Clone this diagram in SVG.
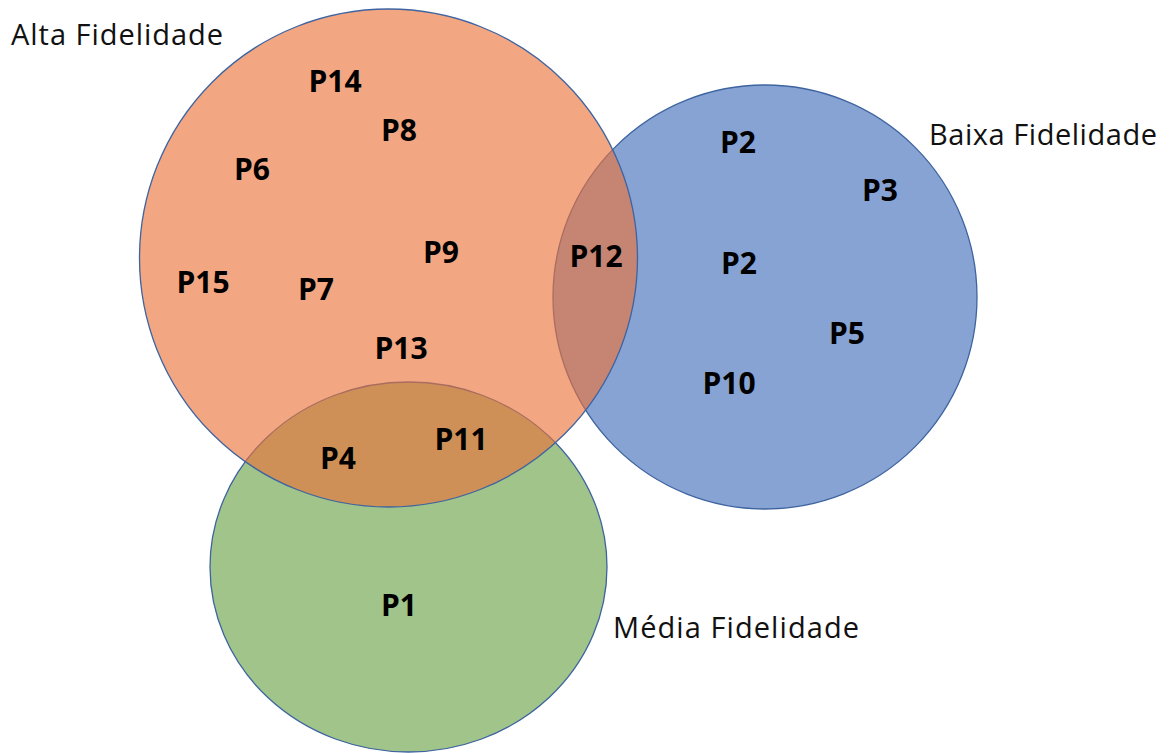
<svg xmlns="http://www.w3.org/2000/svg" width="1169" height="753" viewBox="0 0 1169 753">
<style>
.set{stroke:#3E64A0;stroke-width:1.3}
.lbl{font-family:"Open Sans","Noto Sans",sans-serif;font-size:29px;fill:#111}
.p{font-family:"Open Sans","Noto Sans",sans-serif;font-size:30px;font-weight:bold;fill:#000;text-anchor:middle}
</style>
<rect width="1169" height="753" fill="#ffffff"/>
<g id="media">
<ellipse class="set" cx="408.5" cy="567" rx="198.5" ry="185" fill="#A0C48A"/>
</g>
<g id="baixa">
<circle class="set" cx="765" cy="297" r="212" fill="#87A3D3"/>
</g>
<g id="alta">
<circle class="set" cx="388.5" cy="258" r="249" fill="#EA7239" fill-opacity="0.63"/>
</g>
<g id="connectors"></g>
<g id="labels">
<text class="lbl" x="11" y="45" textLength="212" lengthAdjust="spacing">Alta Fidelidade</text>
<text class="lbl" x="929" y="145" textLength="228" lengthAdjust="spacing">Baixa Fidelidade</text>
<text class="lbl" x="613" y="638" textLength="246" lengthAdjust="spacing">Média Fidelidade</text>
</g>
<g id="items">
<text class="p" x="335" y="92">P14</text>
<text class="p" x="399" y="141">P8</text>
<text class="p" x="252" y="180">P6</text>
<text class="p" x="441" y="263">P9</text>
<text class="p" x="203" y="293">P15</text>
<text class="p" x="316" y="300">P7</text>
<text class="p" x="401" y="359">P13</text>
<text class="p" x="596" y="267">P12</text>
<text class="p" x="338" y="469">P4</text>
<text class="p" x="461" y="450">P11</text>
<text class="p" x="399" y="616">P1</text>
<text class="p" x="738" y="153">P2</text>
<text class="p" x="880" y="201">P3</text>
<text class="p" x="739" y="274">P2</text>
<text class="p" x="847" y="344">P5</text>
<text class="p" x="729" y="394">P10</text>
</g>
</svg>
